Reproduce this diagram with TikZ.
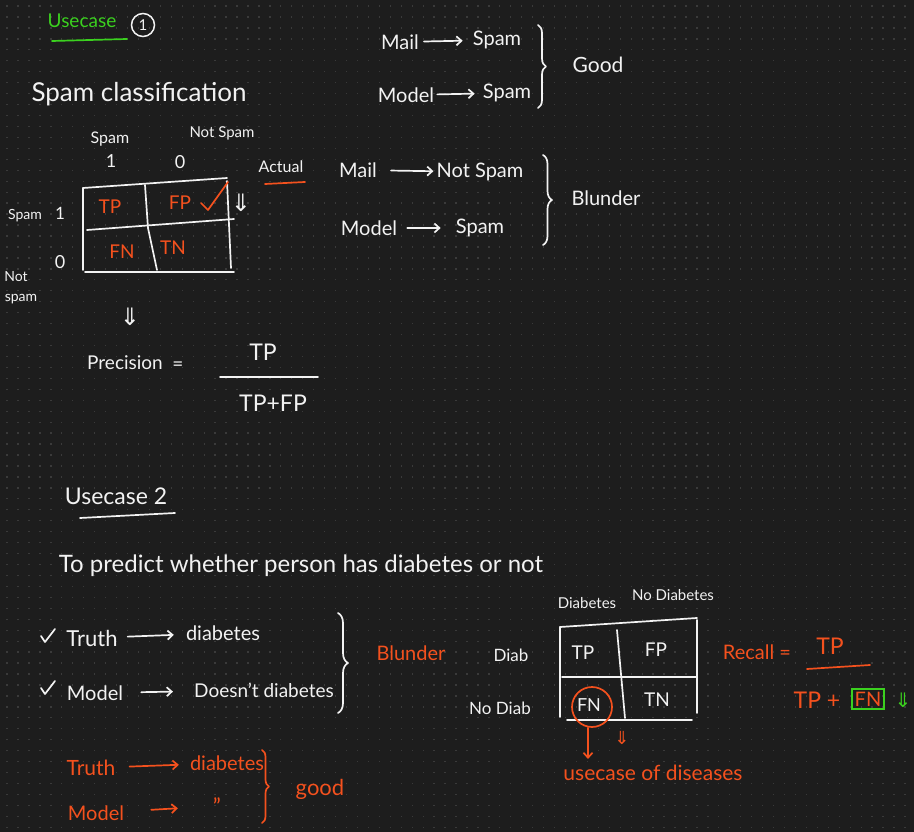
\documentclass[tikz,border=0pt]{standalone}
\usepackage{fontspec}
\setmainfont{Lato}
\newfontfamily\symfont{DejaVu Sans}
\usetikzlibrary{arrows.meta,decorations.pathreplacing}
\definecolor{bg}{HTML}{1D1D1D}
\definecolor{dotc}{HTML}{3A3A3A}
\definecolor{ink}{HTML}{F2F2F2}
\definecolor{orng}{HTML}{F4511E}
\definecolor{grn}{HTML}{3BD11F}
\begin{document}
\begin{tikzpicture}[x=1pt,y=-1pt,
  wt/.style={inner sep=0pt, text=ink, font=\fontsize{#1}{#1}\selectfont},
  ot/.style={inner sep=0pt, text=orng, font=\fontsize{#1}{#1}\selectfont},
  gt/.style={inner sep=0pt, text=grn, font=\fontsize{#1}{#1}\selectfont},
  wsym/.style={inner sep=0pt, text=ink, font=\symfont\fontsize{#1}{#1}\selectfont},
  osym/.style={inner sep=0pt, text=orng, font=\symfont\fontsize{#1}{#1}\selectfont},
  gsym/.style={inner sep=0pt, text=grn, font=\symfont\fontsize{#1}{#1}\selectfont},
  ln/.style={draw=ink, line width=1.7pt, line cap=round, line join=round},
  oln/.style={draw=orng, line width=1.7pt, line cap=round, line join=round},
  gln/.style={draw=grn, line width=1.7pt, line cap=round, line join=round},
  arr/.style={ln, -{Straight Barb[length=5pt,width=9pt]}},
  oarr/.style={oln, -{Straight Barb[length=5pt,width=9pt]}},
  br/.style={ln, decorate, decoration={brace, amplitude=#1}},
  obr/.style={oln, decorate, decoration={brace, amplitude=#1}},
]
\useasboundingbox (0,0) rectangle (914,832);
\fill[bg] (0,0) rectangle (914,832);
\foreach \i in {0,...,83}{\foreach \j in {0,...,75}{\fill[dotc] (6.4+\i*10.95,5.4+\j*10.95) rectangle ++(1.3,1.3);}}

% ---------- Use case 1 ----------
\node[gt=19] (uc1) at (82,21) {Usecase};
\draw[gln] (52,41) -- (127,39);
\node[wt=15, draw=ink, circle, line width=1.5pt, minimum size=23pt] (one) at (143,25) {1};
\node[wt=26] (spamcls) at (139,94) {Spam classification};

\node[wt=16] (hspam) at (110,139) {Spam};
\node[wt=15] (hnot) at (222,133) {Not Spam};
\node[wt=18] (h1) at (111,161) {1};
\node[wt=18] (h0) at (180,162) {0};
\node[wt=16] (actual) at (281,167) {Actual};
\draw[oln] (265,184) -- (305,182);

\draw[ln] (83,188) -- (227,178);
\draw[ln] (83,188) -- (83,270);
\draw[ln] (227,181) -- (231,268);
\draw[ln] (85,272) -- (234,272);
\draw[ln] (87,230) -- (234,219);
\draw[ln] (145,185) -- (148,228) -- (157,270);

\node[ot=19] (tp1) at (110,207) {TP};
\node[ot=19] (fp1) at (180,203) {FP};
\draw[oln] (201,203) -- (208,210) -- (228,182);
\node[wsym=24] (dd1) at (241,203) {⇓};
\node[ot=19] (fn1) at (122,252) {FN};
\node[ot=19] (tn1) at (173,248) {TN};

\node[wt=14] (rspam) at (25,216) {Spam};
\node[wt=17] (r1) at (60,213) {1};
\node[wt=18] (r0) at (60,262) {0};
\node[wt=14] (rnot) at (16,277) {Not};
\node[wt=14] (rspam2) at (21,299) {spam};

\node[wsym=24] (dd2) at (130,317) {⇓};
\node[wt=19] (prec) at (125,363) {Precision};
\node[wt=19] (eq1) at (178,366) {=};
\node[wt=23] (num1) at (263,352) {TP};
\draw[ln] (220,377) -- (318,377);
\node[wt=23] (den1) at (273,403) {TP+FP};

% ---------- right top ----------
\node[wt=20] (mail1) at (400,42) {Mail};
\node[wt=20] (spam1) at (497,40) {Spam};
\draw[arr, shorten <=5pt, shorten >=10pt] (mail1) -- (spam1);
\node[wt=20] (model1) at (406,95) {Model};
\node[wt=20] (spam2) at (507,93) {Spam};
\draw[arr, shorten <=3pt, shorten >=8pt] (model1) -- (spam2);
\draw[br=8pt] (538,25) -- (538,108);
\node[wt=21] (good1) at (598,65) {Good};

\node[wt=20] (mail2) at (358,170) {Mail};
\node[wt=20] (notspam) at (480,172) {Not Spam};
\draw[arr, shorten <=14pt, shorten >=3pt] (mail2) -- (notspam);
\node[wt=20] (model2) at (369,228) {Model};
\node[wt=20] (spam3) at (480,228) {Spam};
\draw[arr, shorten <=10pt, shorten >=15pt] (model2) -- (spam3);
\draw[br=9pt] (543,155) -- (543,245);
\node[wt=20] (blunder1) at (606,198) {Blunder};

% ---------- Use case 2 ----------
\node[wt=23] (uc2) at (116,496) {Usecase 2};
\draw[ln] (80,518) -- (175,513);
\node[wt=24] (sent) at (301,566) {To predict whether person has diabetes or not};

\draw[ln] (41,636) -- (45,642) -- (55,629);
\node[wt=22] (truth1) at (92,638) {Truth};
\node[wt=20] (diab1) at (223,633) {diabetes};
\draw[arr, shorten <=10pt, shorten >=12pt] (truth1) -- (diab1);
\draw[ln] (41,688) -- (45,694) -- (55,681);
\node[wt=20] (model3) at (95,693) {Model};
\node[wt=19] (doesnt) at (264,690) {Doesn't diabetes};
\draw[arr, shorten <=18pt, shorten >=21pt] (model3) -- (doesnt);
\draw[br=10pt] (338,613) -- (338,713);
\node[ot=20] (blunder2) at (411,653) {Blunder};

\node[ot=21] (truth2) at (91,768) {Truth};
\node[ot=20] (diab2) at (227,763) {diabetes};
\draw[oarr, shorten <=14pt, shorten >=11pt] (truth2) -- (diab2);
\node[ot=20] (model4) at (96,813) {Model};
\node[ot=22] (ditto) at (217,806) {"};
\draw[oarr, shorten <=27pt, shorten >=35pt] (model4) -- (ditto);
\draw[obr=7pt] (262,750) -- (262,823);
\node[ot=22] (good2) at (320,789) {good};

% ---------- matrix 2 ----------
\node[wt=15] (cdiab) at (587,603) {Diabetes};
\node[wt=15] (cnodiab) at (673,595) {No Diabetes};
\node[wt=17] (rdiab) at (511,655) {Diab};
\node[wt=17] (rnodiab) at (500,708) {No Diab};
\draw[ln] (560,627) -- (697,618);
\draw[ln] (560,627) -- (560,717);
\draw[ln] (697,620) -- (697,713);
\draw[ln] (562,677) -- (697,677);
\draw[ln] (617,630) -- (625,718);
\draw[ln] (567,720) -- (692,720);
\node[wt=19] (tp2) at (583,653) {TP};
\node[wt=19] (fp2) at (656,650) {FP};
\node[wt=18] (fn2) at (589,705) {FN};
\node[wt=19] (tn2) at (657,700) {TN};
\node[draw=orng, circle, line width=1.7pt, minimum size=40pt, inner sep=0pt] (fncirc) at (592,707) {};
\node[ot=21] (usec) at (653,773) {usecase of diseases};
\draw[oarr, shorten >=6pt] (fncirc.south -| 588,0) -- (usec.north -| 588,0);
\node[osym=18] (dd3) at (622,738) {⇓};

\node[ot=20] (recall) at (757,652) {Recall =};
\node[ot=23] (num2) at (830,646) {TP};
\draw[oln] (807,669) -- (870,665);
\node[ot=23] (den2a) at (817,700) {TP +};
\node[ot=20, draw=grn, line width=1.6pt, inner sep=3pt] (fn3) at (868,699) {FN};
\node[gsym=20] (dd4) at (903,700) {⇓};
\end{tikzpicture}
\end{document}
